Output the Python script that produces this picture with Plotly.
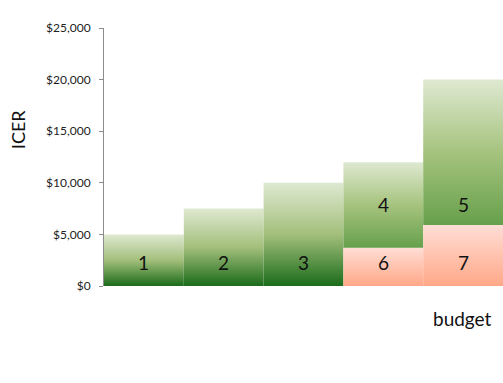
import plotly.graph_objects as go

# ---- data ----
green_labels = ["1", "2", "3"]
green_tops = [5000, 7500, 10000]

lower_labels = ["6", "7"]
lower_tops = [3700, 5900]

upper_labels = ["4", "5"]
upper_tops = [12000, 20000]

y_ticks = [0, 5000, 10000, 15000, 20000, 25000]
y_tick_text = ["$" + format(v, ",") for v in y_ticks]

# ---- styles ----
FONT = "Lato, 'Open Sans', sans-serif"
green_scale = [[0, "#1b6c1b"], [0.5, "#a3bf7b"], [1, "#dee9d1"]]
upper_scale = [[0, "#66a04b"], [0.5, "#a6c37e"], [1, "#dee9d1"]]
lower_scale = [[0, "#ffa888"], [1, "#ffddd5"]]
LABEL_LOW = 2300
LABEL_HIGH = 7850

fig = go.Figure()
annotations = []


def add_bar(slot, bottom, top, scale, label, label_y):
    x0, x1 = slot, slot + 1
    fig.add_trace(go.Scatter(
        x=[x0, x1, x1, x0, x0],
        y=[bottom, bottom, top, top, bottom],
        mode="lines", line=dict(width=0),
        fill="toself",
        fillgradient=dict(type="vertical", colorscale=scale),
        hoverinfo="skip", showlegend=False,
    ))
    annotations.append(dict(
        x=slot + 0.5, y=label_y, xref="x", yref="y", text=label,
        xanchor="center", yanchor="middle",
        showarrow=False, font=dict(size=19, color="#111111", family=FONT),
    ))


for i, (lab, top) in enumerate(zip(green_labels, green_tops)):
    add_bar(i, 0, top, green_scale, lab, LABEL_LOW)

offset = len(green_labels)
for j, (lab_lo, lo, lab_up, up) in enumerate(zip(lower_labels, lower_tops, upper_labels, upper_tops)):
    add_bar(offset + j, 0, lo, lower_scale, lab_lo, LABEL_LOW)
    add_bar(offset + j, lo, up, upper_scale, lab_up, LABEL_HIGH)

annotations.append(dict(
    x=-0.215, y=0.605, xref="paper", yref="paper", text="ICER",
    xanchor="center", yanchor="middle",
    textangle=-90, showarrow=False, font=dict(size=18, color="#111111", family=FONT),
))
annotations.append(dict(
    x=0.898, y=-0.125, xref="paper", yref="paper", text="budget",
    xanchor="center", yanchor="middle",
    showarrow=False, font=dict(size=19, color="#111111", family=FONT),
))

fig.update_layout(
    width=503, height=383,
    margin=dict(l=104, r=0, t=28, b=97),
    paper_bgcolor="white", plot_bgcolor="white",
    annotations=annotations,
    xaxis=dict(range=[0, offset + len(lower_labels)], visible=False, fixedrange=True),
    yaxis=dict(
        range=[0, 25000], tickvals=y_ticks, ticktext=y_tick_text,
        showgrid=False, zeroline=False, showline=True, linecolor="#8c8c8c", linewidth=1,
        ticks="outside", ticklen=4, tickcolor="#8c8c8c", ticklabelstandoff=6,
        tickfont=dict(size=12, color="#222222", family=FONT),
    ),
    showlegend=False,
)

fig.write_html("out.html")
